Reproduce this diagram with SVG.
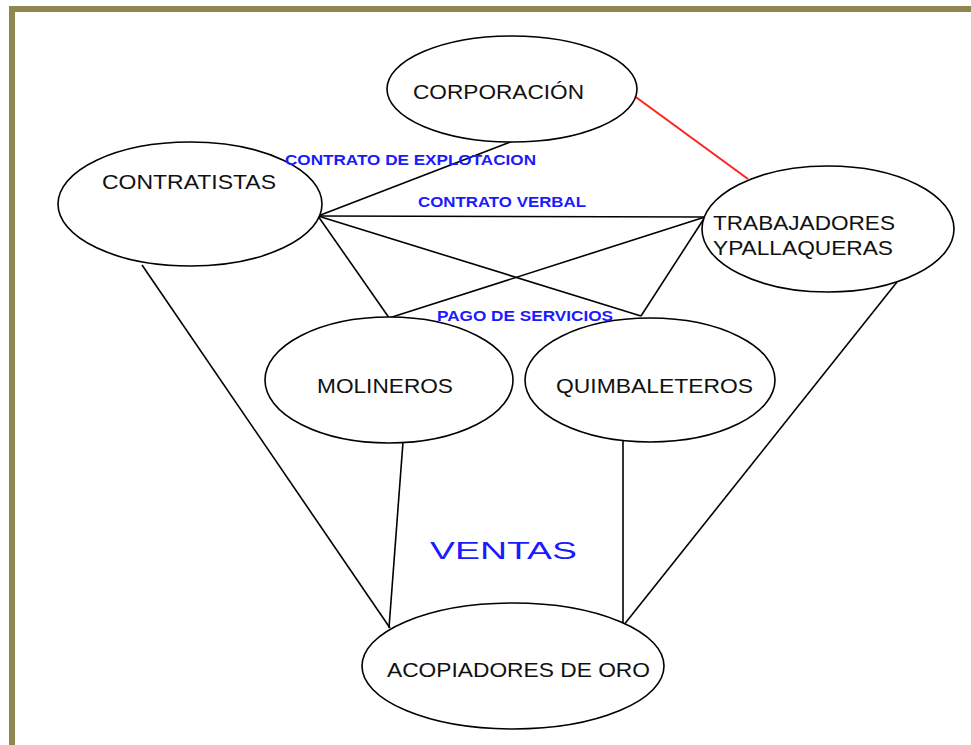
<svg xmlns="http://www.w3.org/2000/svg" width="971" height="745" viewBox="0 0 971 745">
<style>
.node{fill:#fff;stroke:#000;stroke-width:1.6}
.lbl{font-family:"Liberation Sans",Arial,sans-serif;font-size:21px;fill:#111}
.edge{stroke:#000;stroke-width:1.6;fill:none}
.blue{font-family:"Liberation Sans",Arial,sans-serif;font-size:14px;font-weight:bold;fill:#1a1aff}
.frame{stroke:#8f8652;stroke-width:6;fill:none}
</style>
<rect width="971" height="745" fill="#fff"/>
<g id="frame">
<line class="frame" x1="12" y1="6" x2="12" y2="745"/>
<line class="frame" x1="9" y1="9" x2="971" y2="9"/>
</g>
<g id="connectors">
<line class="edge" x1="318" y1="216" x2="513" y2="141"/>
<line class="edge" x1="318" y1="216" x2="705" y2="217"/>
<line class="edge" x1="318" y1="216" x2="392" y2="322"/>
<line class="edge" x1="318" y1="216" x2="641" y2="316"/>
<line class="edge" x1="705" y1="217" x2="389" y2="318"/>
<line class="edge" x1="705" y1="217" x2="641" y2="316"/>
<line class="edge" x1="142" y1="265" x2="390" y2="628"/>
<line class="edge" x1="403" y1="442" x2="389" y2="628"/>
<line class="edge" x1="623" y1="441" x2="623" y2="626"/>
<line class="edge" x1="897" y1="282" x2="623" y2="626"/>
<line x1="633" y1="95" x2="748" y2="179" stroke="#ff2020" stroke-width="2"/>
</g>
<g id="corporacion">
<ellipse class="node" cx="512" cy="89" rx="125" ry="53"/>
<text class="lbl" x="413" y="99" textLength="171" lengthAdjust="spacingAndGlyphs">CORPORACIÓN</text>
</g>
<g id="contratistas">
<ellipse class="node" cx="190" cy="204" rx="132" ry="62"/>
<text class="lbl" x="102" y="189" textLength="174" lengthAdjust="spacingAndGlyphs">CONTRATISTAS</text>
</g>
<g id="trabajadores">
<ellipse class="node" cx="828" cy="229" rx="126" ry="63"/>
<text class="lbl" x="713" y="230" textLength="182" lengthAdjust="spacingAndGlyphs">TRABAJADORES</text>
<text class="lbl" x="713" y="255" textLength="180" lengthAdjust="spacingAndGlyphs">YPALLAQUERAS</text>
</g>
<g id="molineros">
<ellipse class="node" cx="389" cy="380" rx="124" ry="63"/>
<text class="lbl" x="317" y="393" textLength="136" lengthAdjust="spacingAndGlyphs">MOLINEROS</text>
</g>
<g id="quimbaleteros">
<ellipse class="node" cx="650" cy="380" rx="125" ry="62"/>
<text class="lbl" x="556" y="393" textLength="197" lengthAdjust="spacingAndGlyphs">QUIMBALETEROS</text>
</g>
<g id="acopiadores">
<ellipse class="node" cx="513" cy="666" rx="151" ry="63"/>
<text class="lbl" x="387" y="677" textLength="263" lengthAdjust="spacingAndGlyphs">ACOPIADORES DE ORO</text>
</g>
<g id="edge-labels">
<text class="blue" x="285" y="165" textLength="251" lengthAdjust="spacingAndGlyphs">CONTRATO DE EXPLOTACION</text>
<text class="blue" x="418" y="207" textLength="168" lengthAdjust="spacingAndGlyphs">CONTRATO VERBAL</text>
<text class="blue" x="437" y="321" textLength="176" lengthAdjust="spacingAndGlyphs">PAGO DE SERVICIOS</text>
<text x="430" y="559" textLength="147" lengthAdjust="spacingAndGlyphs" style="font-family:'Liberation Sans',Arial,sans-serif;font-size:23px;fill:#1a1aff">VENTAS</text>
</g>
</svg>
